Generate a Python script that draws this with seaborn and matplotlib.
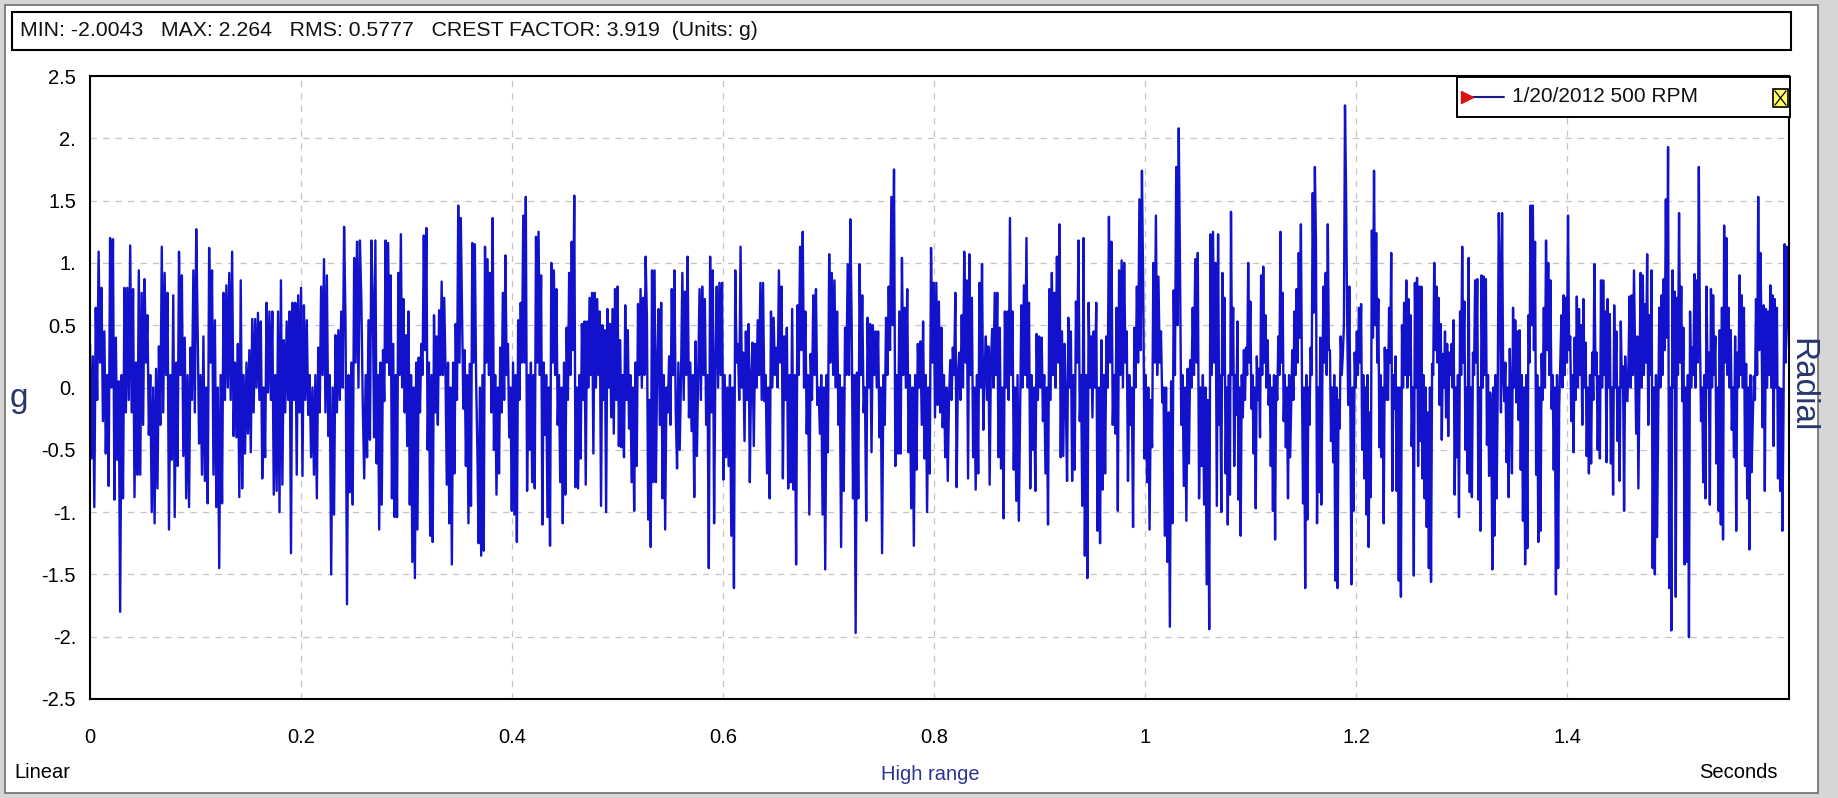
import numpy as np
import pandas as pd
import matplotlib
matplotlib.use("Agg")
import matplotlib.pyplot as plt
import seaborn as sns
from matplotlib.patches import Rectangle
from matplotlib.lines import Line2D

# ---------------- data (acceleration in g) ----------------
seg1 = [0.35, -0.57, 0.25, -0.96, 0.64, -0.1, 1.09, 0.2, 0.8, -0.27, 0.45, -0.53, 0.1, -0.79, 1.2, 0.0, 1.19, -0.9, 0.4, -0.58, 0.05, -1.8, 0.1, -0.89, 0.8, -0.2, 0.8, -0.1, 1.14, -0.2, 0.79, -0.88, 0.2, -0.7, 0.94, -0.7, 0.76, -0.3, 0.87, 0.2, 0.58, -0.38, 0.1, -1.0, 0.0, -1.09, 0.15, -0.81, 0.33, -0.3, 1.13, -0.2, 0.92, 0.1, 0.76, -1.14, 0.1, -0.58, 0.74, -1.04, 0.2, -0.63, 1.09, 0.1, 0.9, -0.55, 0.4, -0.89, 0.1, -0.96, 0.32, -0.1, 0.94, -0.2, 1.27, 0.45, -0.45, 0.1, -0.7, 0.41, -0.75, 0.0, -0.93, 1.12, 0.2, 0.94, -0.7, 0.54, -0.96, 0.0, -1.45, 0.1, -0.93, 0.76, -0.1, 0.82, 0.0, 0.92, -0.1, 1.09, -0.39, 0.2, -0.4, 0.35, -0.88, 0.86, -0.81, 0.1, -0.53, 0.2, -0.37, 0.3, -0.52, 0.55, -0.2, 0.55, 0.0, 0.6, -0.1, 0.53, -0.73, 0.0, -0.56, 0.68, -0.04, 0.61, -0.1, 0.61, -0.86, 0.1, -0.83, 0.61, -1.0, 0.86, -0.78, 0.38, -0.2, 0.53, -0.1, 0.61, -1.33, 0.68, -0.1, 0.68, -0.7, 0.74, -0.2, 0.8, -0.71, 0.66, -0.1, 0.54, -0.22, 0.1, -0.56, 0.0, -0.7, 0.1, -0.89, 0.32, -0.2, 0.81, 0.1, 1.03, -0.2, 0.9, -0.39, 0.1, -1.5, 0.0, -1.02, 0.42, -0.2, 0.46, -0.1, 0.61, 0.0, 1.29, 0.51, -1.74, 0.1, -0.84, 0.2, -0.94, 1.04, 0.2, 1.17, 0.0, 1.18, 0.71, -0.14, -0.73, 0.1, -0.56, 0.54, -0.42, 1.18]

seg2 = [0.71, -0.4, 1.18, -0.61, 0.1, -1.14, 0.2, -0.94, 0.3, -0.11, 1.18, 0.2, 1.16, 0.1, 0.9, -0.89, 0.35, -1.04, 0.1, -1.04, 0.92, 0.1, 1.23, 0.0, 0.71, -0.2, 0.42, -0.47, 0.61, -0.94, 0.1, -1.4, 0.0, -1.53, 0.2, -1.14, 0.24, -0.2, 0.35, 0.1, 1.22, 0.3, 1.28, -0.5, 0.2, -1.19, 0.1, -1.24, 0.58, -0.2, 0.41, -0.3, 0.62, 0.1, 0.85, 0.1, 0.72, 0.15, -0.78, 0.2, -1.09, 0.0, -1.42, 0.2, -0.69, 0.51, -0.1, 1.46, 0.2, 1.36, 0.61, -0.17, 0.3, -0.63, 0.1, -1.09, 0.19, -0.95, 1.16, 0.2, 1.15, 0.09, -0.5, -1.25, 0.0, -1.35, 0.1, -1.31, 1.13, 0.2, 1.03, 0.1, 0.92, -0.2, 1.36, -0.5, 0.1, -0.86, 0.0, -0.69, 0.32, -0.2, 0.76, -0.1, 1.06, 0.1, 0.35, -0.4, 0.0, -0.99, 0.2, -1.02, 0.1, -1.24, 0.54, -0.1, 0.68, 0.2, 1.38, 0.2, 1.53, -0.83, 0.1, -0.5, 0.2, -0.76, 0.1, -0.81, 1.21, 0.2, 1.25, 0.1, 0.9, -1.1, 0.2, -0.38, 0.1, -1.04, 0.0, -1.27, 1.0, 0.2, 0.94, 0.1, 0.79, -0.3, 0.1, -0.76, 0.0, -1.09, 0.2, -0.86, 0.48, -0.1, 0.92, 0.1, 1.17, 0.3, 1.54, -0.8, 0.0, -0.81, 0.1, -0.57, 0.51, -0.1, 0.53, -0.78, 0.53, 0.0, 0.72, 0.1, 0.76, -0.53, 0.76, 0.0, 0.71, 0.1, 0.61, -0.95, 0.5, -0.1, 0.46, -1.0, 0.63, 0.0, 0.51, -0.24, 0.63, -0.37, 0.79, -0.1, 0.81, -0.47, 0.38, -0.48, 0.1, -0.56, 0.66, -0.1, 0.46, -0.33, 0.1, -0.76, 0.0, -0.99, 0.2, -0.63, 0.67, 0.1, 0.79, 0.0, 0.72, 0.1, 1.05, 0.56, -1.06, -0.1, -1.28, 0.94, -0.76]

seg3 = [0.94, -0.76, 0.2, 0.63, -0.3, 0.68, -0.89, 0.1, -1.14, 0.0, -0.2, 0.25, -0.3, 0.79, 0.1, 0.94, -0.2, -0.65, 0.2, -0.5, 0.09, 0.92, -0.1, 0.77, 0.1, 1.05, -0.24, 0.2, -0.35, 0.1, -0.88, 0.37, -0.55, 0.1, 0.79, -0.1, 0.81, 0.1, 0.71, -0.3, 0.1, -1.45, 1.05, -0.2, 0.94, -1.09, 0.2, 0.81, 0.0, 0.84, 0.1, 0.84, -0.74, 0.1, -0.56, 0.0, -0.63, 0.1, -1.19, 0.0, -1.61, 0.94, 0.2, 0.35, -0.1, 1.13, 0.0, 0.28, -0.43, 0.45, -0.1, 0.51, -0.76, 0.1, 0.36, -0.47, 0.35, 0.0, 0.54, 0.1, 0.84, -0.1, 0.84, -0.11, 0.1, -0.69, 0.0, -0.89, 0.61, 0.0, 0.56, 0.1, 0.32, 0.0, 0.94, 0.2, 0.81, -0.73, 0.41, -0.1, 0.48, -0.81, 0.1, -0.76, 0.63, -0.82, 0.1, -1.42, 0.66, 0.1, 1.13, 0.3, 1.25, 0.0, 0.61, -0.37, 0.1, -1.02, 0.27, -0.1, 0.74, 0.1, 0.79, -0.14, 0.0, -0.37, 0.1, -1.02, 0.0, -1.46, 0.1, -0.52, 1.07, 0.2, 0.92, 0.1, 0.86, 0.0, 0.61, -0.3, 0.1, -1.28, 0.0, -0.83, 0.48, 0.1, 0.99, 0.1, 1.35, 0.51, -0.89, 0.1, -1.97, 0.12, -0.89, 0.99, 0.1, 0.74, -0.2, 0.0, -1.07, 0.56, 0.0, 0.51, -0.52, 0.5, 0.1, 0.45, 0.0, 0.45, -0.4, 0.0, -1.33, 0.1, -0.3, 0.56, 0.1, 0.81, 0.3, 1.53, 0.5, 1.75, -0.63, 0.1, -0.53, 0.61, -0.53, 1.04, 0.1, 0.64, 0.0, 0.79, -0.52, 0.1, -0.97, 0.0, -1.27, 0.1, -0.66, 0.35, 0.0, 0.37, -0.3, 0.53, -0.57, 0.1, -1.0, 0.0, -0.69, 1.12, 0.2, 0.84, -0.24]

seg4 = [0.84, -0.14, 0.69, -0.2, 0.48, -0.32, 0.1, -0.56, 0.0, -0.75, -0.08, 0.22, -0.1, 0.32, 0.1, 0.76, -0.8, 0.1, 0.28, -0.1, 0.58, 0.0, 1.09, 0.2, 0.86, -0.73, 1.07, 0.1, 0.72, -0.56, 0.0, -0.82, 0.1, -0.69, 0.84, 0.0, 0.99, -0.34, 0.1, 0.41, -0.1, 0.33, -0.78, 0.2, 0.47, 0.0, 0.76, 0.1, 0.76, -0.56, 0.48, -0.65, 0.0, -1.05, 0.61, 0.0, 0.61, -0.1, 1.36, 0.1, 0.61, -0.66, 0.0, -0.91, 0.1, -1.07, -0.2, 0.66, 0.0, 0.82, 0.1, 1.2, 0.0, 0.68, -0.81, 0.1, -0.5, 0.0, -0.83, 0.43, -0.1, 0.41, 0.0, 0.4, -0.27, 0.1, -0.69, 0.0, -1.1, 0.79, -0.1, 0.92, 0.1, 0.76, 0.0, 1.05, 0.2, 1.31, -0.56, 0.45, -0.55, 0.35, -0.1, -0.75, 0.56, 0.0, 0.45, -0.75, 0.1, -0.66, 0.69, 0.2, 1.18, -0.27, 0.1, -0.95, 1.2, -1.35, 0.1, -1.53, 0.68, 0.0, 0.41, -0.24, 0.45, 0.0, 0.68, -1.15, 0.0, -1.25, 0.38, -0.82, 0.1, -0.69, 0.41, 0.0, 1.37, 0.2, 1.17, -0.3, 0.1, -0.37, 0.64, -0.99, 0.94, 0.1, 1.02, 0.0, 1.0, 0.2, 0.45, -0.75, 0.1, -0.3, 0.0, -1.12, 0.48, 0.0, 0.81, 0.2, 1.51, 0.3, 1.74, 0.8, -0.57, 0.1, -0.76, 0.0, -1.14, -0.1, -0.48, 1.0, 0.2, 1.38, 0.1, 0.89, 0.2, 0.45, -0.12, 0.0, -1.19, 0.0, -1.4, -0.2, -1.92, 0.05, -1.09, 0.78, 0.1, 1.77, 0.5, 2.08, 0.94, -0.3, 0.1, -0.79, 0.0, -1.07, 0.15, -0.61, 0.22, 0.0, 0.64, 0.1, 1.03, 0.2, 1.08, -0.89, 0.0, -0.63, 0.1, -0.94, 0.0, -1.58, -0.1, -1.94, 1.23, 0.1, 1.25, 0.2, 1.0, -0.95]

seg5 = [1.23, -0.3, 0.1, -1.0, 0.92, 0.1, 0.72, -0.69, 0.0, -1.1, 0.1, -0.86, 1.41, 0.1, 0.64, -0.63, 0.1, -0.22, 0.53, -0.9, 0.0, -1.19, 0.1, -0.24, 0.3, -0.1, 0.32, 0.1, 1.0, 0.2, 0.69, -0.17, 0.1, -0.53, 0.0, -0.97, 0.25, -0.1, 0.15, -0.4, 0.9, 0.1, 0.97, 0.2, 0.58, 0.0, 0.38, -0.14, 0.1, -0.63, 0.0, -0.99, 0.1, -1.22, 0.09, -0.1, 0.41, 0.1, 1.25, 0.2, 0.76, -0.27, 0.1, -0.48, 0.0, -0.89, 0.1, -0.56, -0.11, 0.3, -0.1, 0.61, 0.1, 0.79, 0.2, 1.08, 0.4, 1.31, 0.05, -0.93, 0.0, -1.61, 0.1, -1.06, 0.0, -0.3, 0.32, 0.1, 1.56, 0.6, 1.77, 1.16, -1.09, 0.0, -0.84, 0.4, -0.94, 0.1, 0.81, 0.2, 0.92, 0.1, 1.31, 0.3, 0.3, -0.43, 0.0, -0.6, 0.1, -1.55, 0.0, -1.61, -0.1, -0.33, 0.41, 0.1, 0.27, 0.5, 2.264, 1.57, 0.56, -0.14, 0.81, -0.2, -1.58, 0.0, -0.99, 0.28, 0.0, 0.45, 0.1, 0.64, 0.2, 0.67, -0.5, 0.1, -0.73, 0.0, -1.02, 0.1, -1.28, -0.2, -0.88, 1.26, 0.4, 1.74, 0.5, 1.24, 0.2, 0.71, -0.48, 0.1, -0.56, 0.0, -1.09, 0.32, -0.1, 0.3, -0.1, 0.64, 0.2, 1.08, -0.83, 0.1, -0.17, 0.25, -0.83, 0.0, -1.55, 0.0, -1.68, 0.5, 0.0, 0.68, 0.1, 0.86, 0.0, 0.71, 0.1, 0.58, -0.47, 0.0, -1.51, 0.84, 0.0, 0.88, -0.63, 0.81, -0.43, 0.81, -0.73, 0.1, -0.89, 0.0, -1.12, -0.2, -1.45, 0.0, -1.56, 0.19, 0.1, 1.0, 0.3, 0.81, 0.2, 0.72, -0.14, 0.51, -0.42, 0.27, 0.0, 0.45, -0.24, 0.35, -0.39, 0.28, 0.1, 0.35, 0.0, 0.54, -0.86, 0.0, -0.56, 0.1, -1.04, 0.61, 0.1, 1.13, 0.2, 0.69, -0.5, 0.0, -0.69, 1.04, -0.84, 0.0, -0.88, 0.28, 0.1, 0.86, 0.2, 0.87, -0.9, 0.0, -1.15, 0.9, 0.0, 0.89, 0.1, 0.87, -0.46, 0.1, -0.71, -0.04, -0.2, -1.46, 0.0, -1.19, 0.1, -0.89, -0.05, 1.4]

seg6 = [0.89, -0.2, 1.4, 0.1, -0.11, 0.2, -0.6, 0.0, -0.88, 0.31, -0.1, -0.69, 0.64, 0.0, 0.54, -0.12, 0.45, -0.26, 0.46, -0.66, 0.1, -1.07, 0.0, -1.42, 0.1, -1.29, 0.58, 0.2, 1.46, 0.5, 1.46, 0.3, 1.17, -0.7, 0.1, -1.24, 0.0, -1.15, 0.27, -0.1, 0.64, 0.0, 1.18, 0.3, 1.0, 0.1, 0.86, -0.17, 0.1, -0.66, 0.0, -1.66, 0.1, -1.45, -0.14, 0.2, 0.58, 0.0, 0.74, 0.1, 0.72, 0.2, 1.38, 0.3, 0.41, -0.27, 0.1, -0.52, 0.4, -0.1, 0.73, 0.0, 0.63, 0.1, 0.5, -0.3, 0.71, 0.0, 0.36, -0.55, 0.0, -0.69, 0.1, -0.61, 0.28, -0.1, 0.99, 0.1, 0.28, -0.5, 0.09, -0.57, 0.86, 0.0, 0.86, 0.1, 0.61, -0.6, 0.71, 0.0, 0.59, -0.61, 0.0, -0.86, 0.66, 0.0, 0.45, -0.43, 0.0, -0.75, 0.53, 0.0, 0.17, -0.99, 0.25, -0.1, -0.11, 0.2, 0.73, 0.0, 0.74, 0.1, 0.94, 0.28, -0.37, 0.41, -0.81, 0.1, 0.92, 0.0, 0.9, 0.1, 0.67, 0.2, 1.07, -0.3, 0.58, 0.1, 0.94, -1.45, 0.0, -1.5, 0.1, -1.2, -0.24, 0.64, 0.0, 0.74, 0.1, 0.87, 0.3, 1.51, 0.4, 1.93, -1.61, 0.0, -1.95, 0.94, 0.0, 0.77, -1.68, 0.72, 0.1, 1.4, 0.2, 0.81, -0.11, 0.48, -1.42, 0.0, -1.4, 0.1, -2.0043, 0.61, 0.0, 0.32, 0.1, 0.91, 0.0, 0.86, 0.2, 1.77, 0.41, -0.27, 0.0, -0.76, 0.1, -0.89, 0.81, 0.0, 0.28, -0.94, 0.79, 0.0, 0.74, 0.1, 0.41, -0.61, 0.0, -0.99, 0.46, -1.1, 0.64, -1.22, 1.3, 0.2, 1.2, 0.1, 0.64, 0.0, 0.46, -0.34, 0.0, -0.56, 0.41, -1.15, 0.28, 0.0, 0.9, 0.1, 0.74, 0.0, 0.64, -0.63, 0.19, -0.89, 0.0, -1.3, 0.1, -0.68, -0.27, 0.09, -0.1, 0.71, 0.1, 1.53, 0.3, 1.08, 0.46, -0.32, 0.66, -0.83, 0.63, 0.0, 0.61, 0.1, 0.82, 0.0, 0.74, -0.47, 0.71, 0.0, 0.64, -0.73, 0.0, -0.83, -0.01, -1.15, -0.2, 1.15, 0.2, 1.13, 0.61, 0.32]

segments = [seg1, seg2, seg3, seg4, seg5, seg6]
seg_bounds = [0.0, 0.268, 0.535, 0.802, 1.069, 1.336, 1.61]   # seconds

y_ticks = [-2.5, -2.0, -1.5, -1.0, -0.5, 0.0, 0.5, 1.0, 1.5, 2.0, 2.5]
y_tick_labels = ["-2.5", "-2.", "-1.5", "-1.", "-0.5", "0.", "0.5", "1.", "1.5", "2.", "2.5"]
x_ticks = [0.0, 0.2, 0.4, 0.6, 0.8, 1.0, 1.2, 1.4]
x_tick_labels = ["0", "0.2", "0.4", "0.6", "0.8", "1", "1.2", "1.4"]

header_text = "MIN: -2.0043   MAX: 2.264   RMS: 0.5777   CREST FACTOR: 3.919  (Units: g)"
legend_label = "1/20/2012 500 RPM"

# ---------------- build frame ----------------
times, vals = [], []
for k, seg in enumerate(segments):
    last = (k == len(segments) - 1)
    tt = np.linspace(seg_bounds[k], seg_bounds[k + 1], len(seg), endpoint=last)
    times.extend(tt)
    vals.extend(seg)
df = pd.DataFrame({"t": times, "g": vals})

# ---------------- figure ----------------
W, H = 1838, 798
sns.set_theme(style="white")
plt.rcParams["font.family"] = ["Liberation Sans", "DejaVu Sans"]

fig = plt.figure(figsize=(W / 100, H / 100), dpi=100, facecolor="#d6d6d6")

def fx(px):
    return px / W

def fy(py):
    return 1 - py / H

# white panel (behind everything)
fig.patches.append(Rectangle((fx(5), fy(793)), fx(1818) - fx(5), fy(5) - fy(793),
                             transform=fig.transFigure, facecolor="white",
                             edgecolor="#6e6e6e", lw=1.2, zorder=-5))
# header box
fig.patches.append(Rectangle((fx(12), fy(50)), fx(1791) - fx(12), fy(12) - fy(50),
                             transform=fig.transFigure, facecolor="white",
                             edgecolor="black", lw=1.5, zorder=1))
fig.text(fx(20), fy(31), header_text, fontsize=15.3, ha="left", va="center", color="#111111")

ax = fig.add_axes([fx(90), fy(699), fx(1789) - fx(90), fy(76) - fy(699)])
ax.set_zorder(2)
ax.set_facecolor("white")

sns.lineplot(data=df, x="t", y="g", ax=ax, color="#1212cc", linewidth=1.7,
             estimator=None, sort=False, legend=False)

ax.set_xlim(0, 1.61)
ax.set_ylim(-2.5, 2.5)
ax.set_yticks(y_ticks)
ax.set_yticklabels(y_tick_labels)
ax.set_xticks(x_ticks)
ax.set_xticklabels(x_tick_labels)
ax.set_xlabel("")
ax.set_ylabel("")
ax.tick_params(axis="y", direction="out", length=3, width=1, pad=7, labelsize=14.5, colors="black")
ax.tick_params(axis="x", direction="out", length=3, width=1, pad=18, labelsize=14.5, colors="black")
ax.grid(True, color="#c4c4c4", linestyle=(0, (5, 5)), linewidth=0.9)
ax.set_axisbelow(True)
for s in ax.spines.values():
    s.set_visible(True)
    s.set_color("black")
    s.set_linewidth(1.5)

# axis annotations
fig.text(fx(19), fy(398), "g", fontsize=24, ha="center", va="center", color="#2a3570")
fig.text(fx(1802), fy(385), "Radial", fontsize=24, ha="center", va="center",
         rotation=-90, color="#2a3570")
fig.text(fx(14), fy(773), "Linear", fontsize=14.5, ha="left", va="center", color="black")
fig.text(fx(930), fy(775), "High range", fontsize=14.5, ha="center", va="center", color="#2a3590")
fig.text(fx(1778), fy(773), "Seconds", fontsize=14.5, ha="right", va="center", color="black")

# legend box
fig.patches.append(Rectangle((fx(1457), fy(117)), fx(1790) - fx(1457), fy(77) - fy(117),
                             transform=fig.transFigure, facecolor="white",
                             edgecolor="black", lw=1.4, zorder=5))
fig.lines.append(Line2D([fx(1473), fx(1504)], [fy(97), fy(97)], transform=fig.transFigure,
                        color="#1a1a8c", lw=1.5, zorder=6))
fig.lines.append(Line2D([fx(1467)], [fy(97)], transform=fig.transFigure, marker=">",
                        markersize=8, color="#dd1111", lw=0, zorder=7))
fig.text(fx(1512), fy(97), legend_label, fontsize=15, ha="left", va="center",
         color="#111111", zorder=7)
fig.patches.append(Rectangle((fx(1773), fy(107)), fx(1788) - fx(1773), fy(89) - fy(107),
                             transform=fig.transFigure, facecolor="#ffff66",
                             edgecolor="black", lw=1.2, zorder=7))
fig.lines.append(Line2D([fx(1775), fx(1786)], [fy(91), fy(105)], transform=fig.transFigure,
                        color="black", lw=0.9, zorder=8))
fig.lines.append(Line2D([fx(1775), fx(1786)], [fy(105), fy(91)], transform=fig.transFigure,
                        color="black", lw=0.9, zorder=8))

fig.savefig("out.png", dpi=100, facecolor=fig.get_facecolor())
